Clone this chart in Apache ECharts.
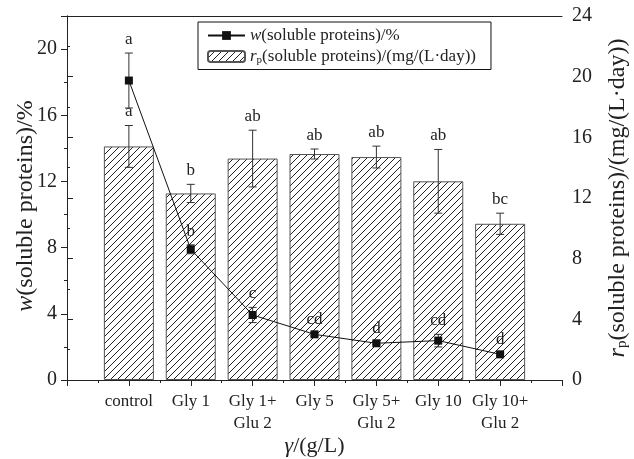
<!DOCTYPE html>
<html><head><meta charset="utf-8">
<script src="https://cdn.jsdelivr.net/npm/echarts@6/dist/echarts.min.js"></script>
<style>html,body{margin:0;padding:0;background:#fff}#c{width:634px;height:459px}</style>
</head><body><div id="c"></div>
<script>
const categories = ['control', 'Gly 1', 'Gly 1+\nGlu 2', 'Gly 5', 'Gly 5+\nGlu 2', 'Gly 10', 'Gly 10+\nGlu 2'];
const rateValues = [15.4, 12.3, 14.6, 14.9, 14.7, 13.1, 10.3];
const rateErrors = [1.38, 0.6, 1.87, 0.33, 0.72, 2.1, 0.7];
const rateLetters = ['a', 'b', 'ab', 'ab', 'ab', 'ab', 'bc'];
const contentValues = [18.1, 7.9, 3.93, 2.76, 2.22, 2.38, 1.55];
const contentErrors = [1.66, 0.27, 0.46, 0.1, 0.08, 0.38, 0.08];
const contentLetters = ['a', 'b', 'c', 'cd', 'd', 'cd', 'd'];

const FF = 'Liberation Serif';
const TXT = '#222';

const pc = document.createElement('canvas');
pc.width = 7; pc.height = 7;
const g = pc.getContext('2d');
g.strokeStyle = '#222'; g.lineWidth = 1;
g.beginPath();
g.moveTo(-1, 8); g.lineTo(8, -1);
g.moveTo(-1, 1); g.lineTo(1, -1);
g.moveTo(6, 8); g.lineTo(8, 6);
g.stroke();
const hatch = { image: pc, repeat: 'repeat' };

function makeErr(values, errors, letters) {
  return function (params, api) {
    const i = params.dataIndex;
    const x = api.value(0), lo = api.value(1), hi = api.value(2);
    const p1 = api.coord([x, hi]), p2 = api.coord([x, lo]);
    const hw = 4;
    const st = { stroke: '#333', lineWidth: 1 };
    return {
      type: 'group', children: [
        { type: 'line', shape: { x1: p1[0], y1: p1[1], x2: p2[0], y2: p2[1] }, style: st },
        { type: 'line', shape: { x1: p1[0] - hw, y1: p1[1], x2: p1[0] + hw, y2: p1[1] }, style: st },
        { type: 'line', shape: { x1: p2[0] - hw, y1: p2[1], x2: p2[0] + hw, y2: p2[1] }, style: st },
        { type: 'text', style: { text: letters[i], x: p1[0], y: p1[1] - 5, align: 'center', verticalAlign: 'bottom', fontSize: 17, fontFamily: FF, fill: TXT } }
      ]
    };
  };
}

const richName = {
  n: { fontSize: 24, fontFamily: FF, color: TXT },
  i: { fontStyle: 'italic', fontSize: 24, fontFamily: FF, color: TXT },
  sub: { fontSize: 15, fontFamily: FF, color: TXT, padding: [10, 0, 0, 0] }
};

const chart = echarts.init(document.getElementById('c'));
chart.setOption({
  animation: false,
  backgroundColor: '#fff',
  textStyle: { fontFamily: FF, color: TXT },
  grid: { left: 67, right: 72, top: 16, bottom: 79, containLabel: false, outerBoundsMode: 'none' },
  legend: {
    left: 198, top: 22, orient: 'vertical',
    borderColor: '#111', borderWidth: 1, borderRadius: 0,
    padding: [5, 15, 4, 9], itemGap: 4, itemWidth: 37, itemHeight: 11,
    data: ['w', 'rp'],
    formatter: n => n === 'w' ? '{i|w}{n|(soluble proteins)/%}' : '{i|r}{sub|p}{n|(soluble proteins)/(mg/(L·day))}',
    textStyle: {
      fontSize: 17, fontFamily: FF, color: TXT,
      rich: {
        n: { fontSize: 17, fontFamily: FF, color: TXT },
        i: { fontStyle: 'italic', fontSize: 17, fontFamily: FF, color: TXT },
        sub: { fontSize: 11, fontFamily: FF, color: TXT, padding: [7, 0, 0, 0] }
      }
    }
  },
  xAxis: [{
    type: 'value', min: 0, max: 8, interval: 1,
    name: '{i|γ}{n|/(g/L)}', nameLocation: 'middle', nameGap: 55, nameMoveOverlap: false,
    nameTextStyle: { fontSize: 22, fontFamily: FF, color: TXT, rich: {
      n: { fontSize: 22, fontFamily: FF, color: TXT },
      i: { fontStyle: 'italic', fontSize: 22, fontFamily: FF, color: TXT } } },
    axisLine: { show: true, lineStyle: { color: '#222', width: 1 } },
    axisTick: { show: true, length: 6, lineStyle: { color: '#222' } },
    minorTick: { show: true, splitNumber: 2, length: 3, lineStyle: { color: '#222' } },
    splitLine: { show: false },
    axisLabel: {
      formatter: v => categories[v - 1] || '',
      fontSize: 17, fontFamily: FF, color: TXT, margin: 11, lineHeight: 22, verticalAlign: 'top'
    }
  }, {
    type: 'value', min: 0, max: 8, position: 'top',
    axisLine: { show: true, onZero: false, lineStyle: { color: '#222', width: 1 } },
    axisTick: { show: false }, axisLabel: { show: false }, splitLine: { show: false }
  }],
  yAxis: [{
    type: 'value', min: 0, max: 22, interval: 4,
    name: '{i|w}{n|(soluble proteins)/%}', nameLocation: 'middle', nameRotate: 90, nameGap: 29, nameMoveOverlap: false,
    nameTextStyle: { fontSize: 24, fontFamily: FF, color: TXT, rich: richName, padding: [0, 16, 0, 0] },
    axisLine: { show: true, lineStyle: { color: '#222', width: 1 } },
    axisTick: { show: true, length: 6, lineStyle: { color: '#222' } },
    minorTick: { show: true, splitNumber: 2, length: 3, lineStyle: { color: '#222' } },
    splitLine: { show: false },
    axisLabel: { fontSize: 20, fontFamily: FF, color: TXT, margin: 10, showMaxLabel: false }
  }, {
    type: 'value', min: 0, max: 24, interval: 4, position: 'right',
    name: '{i|r}{sub|p}{n|(soluble proteins)/(mg/(L·day))}', nameLocation: 'middle', nameRotate: 90, nameGap: 43,
    nameTextStyle: { fontSize: 24, fontFamily: FF, color: TXT, rich: richName },
    axisLine: { show: true, lineStyle: { color: '#222', width: 1 } },
    axisTick: { show: true, length: 6, lineStyle: { color: '#222' } },
    minorTick: { show: true, splitNumber: 2, length: 3, lineStyle: { color: '#222' } },
    splitLine: { show: false },
    axisLabel: { fontSize: 20, fontFamily: FF, color: TXT, margin: 10 }
  }],
  series: [{
    name: 'rp', type: 'bar', xAxisIndex: 0, yAxisIndex: 1, barWidth: 50, z: 2,
    data: rateValues.map((v, i) => [i + 1, v]),
    itemStyle: { color: hatch, borderColor: '#555', borderWidth: 1 }
  }, {
    type: 'custom', xAxisIndex: 0, yAxisIndex: 1, z: 3,
    renderItem: makeErr(rateValues, rateErrors, rateLetters),
    data: rateValues.map((v, i) => [i + 1, v - rateErrors[i], v + rateErrors[i]])
  }, {
    type: 'custom', xAxisIndex: 0, yAxisIndex: 0, z: 4,
    renderItem: makeErr(contentValues, contentErrors, contentLetters),
    data: contentValues.map((v, i) => [i + 1, v - contentErrors[i], v + contentErrors[i]])
  }, {
    name: 'w', type: 'line', xAxisIndex: 0, yAxisIndex: 0, z: 5,
    data: contentValues.map((v, i) => [i + 1, v]),
    symbol: 'rect', symbolSize: 8,
    itemStyle: { color: '#111' }, lineStyle: { color: '#111', width: 1 }
  }]
});
</script></body></html>
